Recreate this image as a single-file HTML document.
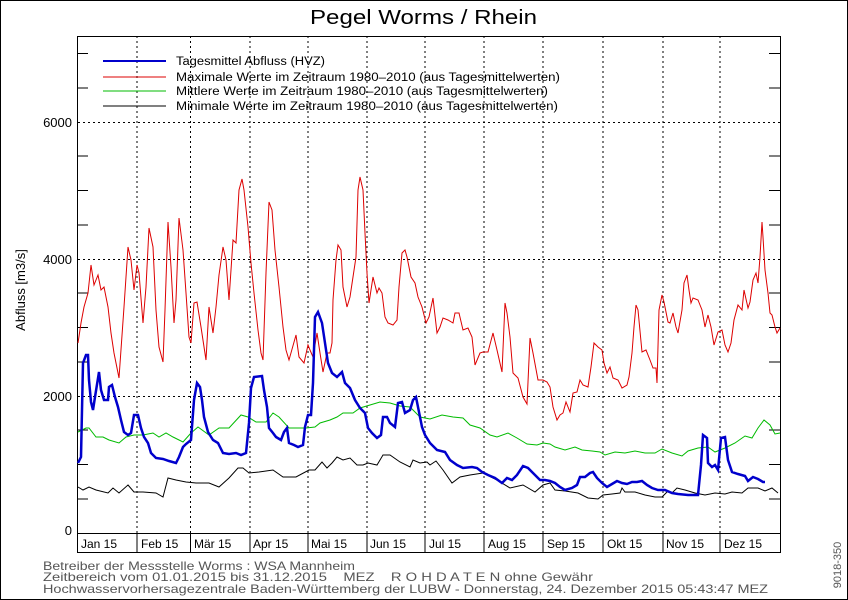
<!DOCTYPE html>
<html><head><meta charset="utf-8"><style>
html,body{margin:0;padding:0;background:#fff}
svg{display:block}
text{font-family:"Liberation Sans",sans-serif;white-space:pre}
</style></head><body>
<svg width="848" height="600" viewBox="0 0 848 600" xmlns="http://www.w3.org/2000/svg" xml:space="preserve">
<rect x="0.5" y="0.5" width="847" height="599" fill="#fff" stroke="#000"/>
<text x="310" y="24" font-size="20" textLength="227" lengthAdjust="spacingAndGlyphs">Pegel Worms / Rhein</text>
<g stroke="#000" stroke-dasharray="2,3" stroke-width="1">
<line x1="78" y1="396.5" x2="780" y2="396.5"/>
<line x1="78" y1="259.5" x2="780" y2="259.5"/>
<line x1="78" y1="122.5" x2="780" y2="122.5"/>
<line x1="137" y1="36" x2="137" y2="533"/>
<line x1="190.5" y1="36" x2="190.5" y2="533"/>
<line x1="250" y1="36" x2="250" y2="533"/>
<line x1="308" y1="36" x2="308" y2="533"/>
<line x1="367" y1="36" x2="367" y2="533"/>
<line x1="425" y1="36" x2="425" y2="533"/>
<line x1="484" y1="36" x2="484" y2="533"/>
<line x1="543" y1="36" x2="543" y2="533"/>
<line x1="603" y1="36" x2="603" y2="533"/>
<line x1="663" y1="36" x2="663" y2="533"/>
<line x1="720" y1="36" x2="720" y2="533"/>
</g>
<g stroke="#000">
<line x1="137" y1="533" x2="137" y2="552"/><line x1="190.5" y1="533" x2="190.5" y2="552"/>
<line x1="250" y1="533" x2="250" y2="552"/><line x1="308" y1="533" x2="308" y2="552"/>
<line x1="367" y1="533" x2="367" y2="552"/><line x1="425" y1="533" x2="425" y2="552"/>
<line x1="484" y1="533" x2="484" y2="552"/><line x1="543" y1="533" x2="543" y2="552"/>
<line x1="603" y1="533" x2="603" y2="552"/><line x1="663" y1="533" x2="663" y2="552"/>
<line x1="720" y1="533" x2="720" y2="552"/>
<line x1="77" y1="533.5" x2="780" y2="533.5"/>
</g>
<g stroke="#000">
<path d="M77 499H88M77 464.5H88M77 430H88M77 362H88M77 327.5H88M77 293H88M77 225H88M77 190.5H88M77 156H88M77 88H88M77 53.5H88"/>
<path d="M780 499H769M780 464.5H769M780 430H769M780 362H769M780 327.5H769M780 293H769M780 225H769M780 190.5H769M780 156H769M780 88H769M780 53.5H769"/>
</g>
<rect x="77.5" y="36.5" width="703" height="516" fill="none" stroke="#000"/>
<g font-size="13" text-anchor="end">
<text x="72" y="127">6000</text><text x="72" y="264">4000</text><text x="72" y="401">2000</text><text x="72" y="535">0</text>
</g>
<text transform="translate(25,290) rotate(-90)" font-size="13" text-anchor="middle">Abfluss [m3/s]</text>
<g font-size="12">
<text x="81" y="548">Jan 15</text><text x="141" y="548">Feb 15</text><text x="194" y="548">Mär 15</text>
<text x="253" y="548">Apr 15</text><text x="311" y="548">Mai 15</text><text x="370" y="548">Jun 15</text>
<text x="429" y="548">Jul 15</text><text x="488" y="548">Aug 15</text><text x="547" y="548">Sep 15</text>
<text x="607" y="548">Okt 15</text><text x="666" y="548">Nov 15</text><text x="724" y="548">Dez 15</text>
</g>
<line x1="103" y1="61" x2="166" y2="61" stroke="#0000cc" stroke-width="2"/>
<line x1="103" y1="77" x2="166" y2="77" stroke="#dd0000"/>
<line x1="103" y1="91" x2="166" y2="91" stroke="#00bb00"/>
<line x1="103" y1="106" x2="166" y2="106" stroke="#000"/>
<g font-size="11.5">
<text x="176" y="65" textLength="149" lengthAdjust="spacingAndGlyphs">Tagesmittel Abfluss (HVZ)</text>
<text x="176" y="81" textLength="384" lengthAdjust="spacingAndGlyphs">Maximale Werte im Zeitraum 1980–2010 (aus Tagesmittelwerten)</text>
<text x="176" y="95" textLength="372" lengthAdjust="spacingAndGlyphs">Mittlere Werte im Zeitraum 1980–2010 (aus Tagesmittelwerten)</text>
<text x="176" y="110" textLength="382" lengthAdjust="spacingAndGlyphs">Minimale Werte im Zeitraum 1980–2010 (aus Tagesmittelwerten)</text>
</g>
<polyline fill="none" stroke="#dd0000" stroke-width="1" points="78,343 81,323 84,307 88,293 91,265 94,285 98,275 101,290 104,287 108,307 111,333 114,353 119,378 124,307 128,247 131,260 134,290 137,265 139,273 143,323 146,287 149,228 153,247 156,310 159,347 163,362 165,310 168,222 171,267 174,323 176,300 179,218 183,250 186,293 189,337 191,343 194,303 197,302 201,327 206,360 209,307 213,333 216,307 219,275 223,247 226,260 229,300 233,240 236,243 239,190 242,179 244,190 248,227 251,263 254,293 258,330 261,353 263,360 266,273 269,202 272,210 275,250 279,287 283,327 286,350 289,360 296,335 299,357 304,363 308,345 310,350 313,357 317,333 320,353 323,372 327,353 330,353 332,343 333,300 336,260 338,245 341,250 343,287 347,307 350,297 353,277 356,257 358,190 360,177 363,190 365,233 367,273 369,303 371,290 373,277 377,293 379,288 382,293 385,317 388,323 393,325 397,320 399,287 402,253 405,250 407,257 411,277 415,283 418,297 422,307 426,323 429,317 433,298 437,333 440,327 443,318 448,320 453,323 455,313 459,313 463,330 468,328 472,337 475,365 480,353 483,352 488,352 493,333 497,350 502,372 505,303 507,313 510,337 513,373 518,378 523,397 527,404 530,338 533,353 538,380 543,380 547,382 550,387 553,407 557,420 560,415 563,413 566,402 570,412 573,393 577,392 580,380 583,385 588,387 591,367 594,343 598,347 602,350 604,363 607,373 610,367 613,378 618,380 622,388 627,385 629,377 632,353 634,327 636,305 638,310 642,352 646,350 650,360 653,368 656,368 657,383 659,310 662,295 664,302 668,322 670,323 673,313 676,327 678,333 682,310 684,283 687,275 689,290 691,303 693,298 698,300 702,310 705,327 708,315 711,327 714,345 718,332 722,330 725,345 728,352 731,343 734,320 738,305 742,310 744,290 748,308 750,302 753,280 756,273 758,283 760,257 762,222 763,237 765,270 768,293 770,313 772,315 775,327 777,333 780,328"/>
<polyline fill="none" stroke="#00bb00" stroke-width="1" points="78,432 86,428 89,428 96,437 103,437 109,440 119,443 126,437 134,435 143,435 153,433 159,437 166,433 173,437 183,442 191,433 198,427 209,435 219,428 229,428 241,415 248,417 256,422 266,422 273,413 279,417 289,428 306,428 315,427 320,423 330,420 337,417 343,413 353,413 360,408 370,405 380,402 390,403 400,406 410,407 420,417 430,419 442,415 453,417 463,418 470,425 480,428 490,435 497,437 508,433 517,438 527,444 537,445 543,443 550,444 555,447 565,450 575,447 582,450 592,451 600,452 605,455 615,452 625,453 635,451 645,453 655,453 662,449 672,453 682,456 688,451 698,448 708,447 715,452 725,448 735,443 745,436 752,438 758,428 764,420 770,425 775,434 780,433"/>
<polyline fill="none" stroke="#000" stroke-width="1" points="78,487 83,490 89,487 96,490 108,493 113,488 119,493 128,485 134,492 143,492 156,493 163,497 168,478 176,480 186,482 196,483 209,483 219,487 229,478 238,468 243,468 249,473 259,472 273,470 283,477 296,477 309,470 315,470 322,462 327,468 332,463 337,457 343,460 350,458 357,465 363,465 368,463 377,465 383,455 390,455 400,462 410,467 413,460 420,463 427,462 430,465 436,461 443,470 452,483 460,477 470,475 483,473 497,480 510,488 523,485 535,492 543,485 550,483 555,490 565,491 578,493 588,498 598,499 603,495 612,494 620,493 622,488 625,492 635,492 645,495 655,497 662,497 668,491 672,493 677,488 685,490 695,493 705,495 715,493 725,494 732,492 742,493 748,488 758,488 765,491 772,488 778,493"/>
<polyline fill="none" stroke="#0000cc" stroke-width="2.5" points="78,463 81,457 83,363 86,355 88,355 89,380 91,402 93,410 95,397 99,372 101,390 104,400 108,400 109,387 112,385 115,397 118,407 121,420 124,432 128,435 131,433 134,415 138,415 141,428 144,437 148,443 151,453 156,458 163,459 169,461 176,463 179,457 183,447 186,444 191,440 194,400 197,383 200,387 202,400 204,417 208,432 213,440 218,443 223,453 229,454 236,453 241,455 246,453 249,423 251,388 254,377 262,376 264,390 267,407 269,428 273,433 276,437 281,440 284,432 287,428 289,443 294,445 298,447 303,445 305,427 308,415 311,415 313,383 315,317 318,312 322,323 325,343 328,363 332,373 337,377 342,372 345,383 350,388 355,400 360,408 365,413 368,428 372,433 377,438 381,435 383,417 387,417 390,423 395,427 398,403 402,402 405,413 410,410 413,400 416,397 418,407 422,427 425,435 430,443 437,450 445,452 450,460 457,465 463,468 472,467 477,468 482,472 488,475 495,478 502,483 507,478 512,480 517,475 523,466 528,468 533,473 540,480 545,480 550,481 555,483 560,487 565,490 572,488 577,485 580,477 585,477 590,473 593,472 597,478 602,483 607,487 612,484 617,481 622,483 627,484 632,482 637,482 642,481 647,485 652,488 658,490 665,490 672,493 678,494 688,495 698,495 701,465 703,435 707,438 708,463 712,467 715,465 718,470 721,438 725,437 728,460 732,472 738,474 745,476 748,481 753,477 758,479 763,482 765,482"/>
<g font-size="12" fill="#555">
<text x="43" y="570" textLength="312" lengthAdjust="spacingAndGlyphs">Betreiber der Messstelle Worms : WSA Mannheim</text>
<text x="43" y="581" textLength="550" lengthAdjust="spacingAndGlyphs">Zeitbereich vom 01.01.2015 bis 31.12.2015    MEZ    R O H D A T E N ohne Gewähr</text>
<text x="43" y="593" textLength="725" lengthAdjust="spacingAndGlyphs">Hochwasservorhersagezentrale Baden-Württemberg der LUBW - Donnerstag, 24. Dezember 2015 05:43:47 MEZ</text>
</g>
<text transform="translate(841,565) rotate(-90)" font-size="11" text-anchor="middle" fill="#555">9018-350</text>
</svg>
</body></html>
